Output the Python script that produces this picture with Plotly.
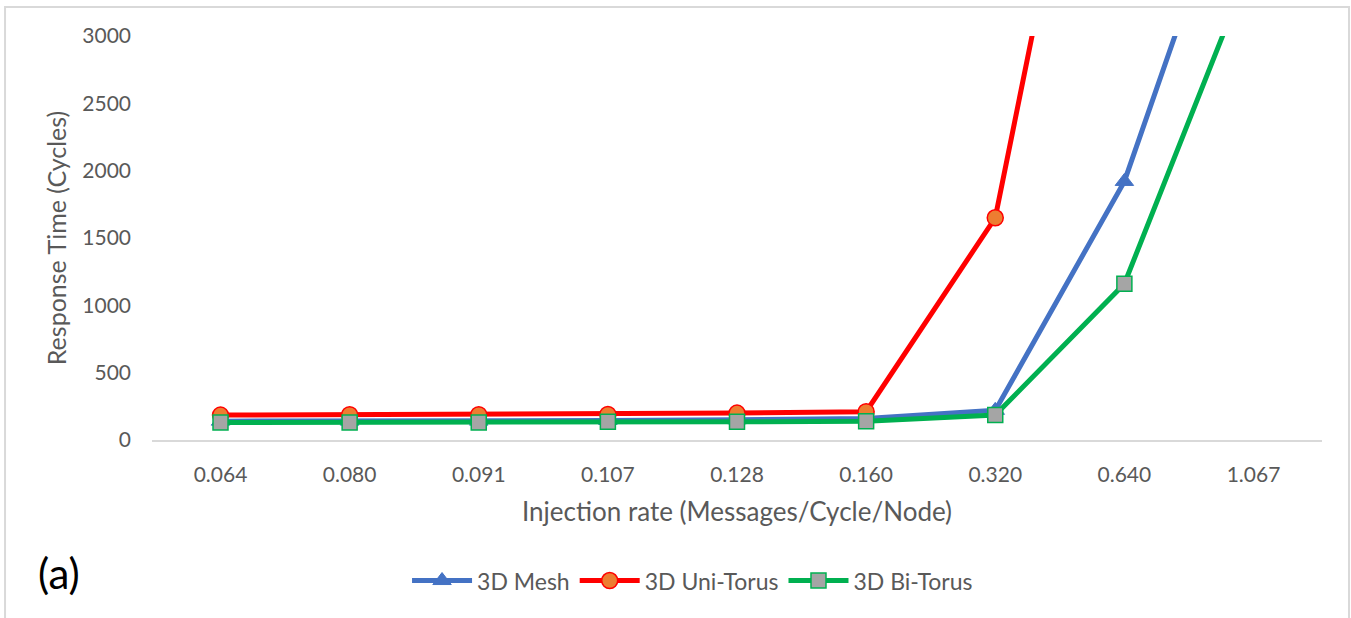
import plotly.graph_objects as go

# Injection rates (categorical x axis)
injection_rates = ["0.064", "0.080", "0.091", "0.107", "0.128", "0.160", "0.320", "0.640", "1.067"]

# Average response time in cycles per topology
mesh_3d = [140, 140, 140, 145, 150, 160, 220, 1920, 4680]
uni_torus_3d = [185, 188, 188, 190, 200, 210, 1650, 6390, 10500]
bi_torus_3d = [130, 130, 130, 135, 135, 140, 185, 1160, 3580]

y_ticks = [0, 500, 1000, 1500, 2000, 2500, 3000]

FONT = "Lato, 'Open Sans', sans-serif"
GRAY_TXT = "#595959"

fig = go.Figure()

fig.add_trace(go.Scatter(
    x=injection_rates, y=mesh_3d, name="3D Mesh", mode="lines+markers",
    line=dict(color="#4472C4", width=5),
    marker=dict(symbol="triangle-up", size=16, color="#4472C4",
                line=dict(color="#4472C4", width=1)),
))
fig.add_trace(go.Scatter(
    x=injection_rates, y=uni_torus_3d, name="3D Uni-Torus", mode="lines+markers",
    line=dict(color="#FF0000", width=5),
    marker=dict(symbol="circle", size=16, color="#ED7D31",
                line=dict(color="#FF0000", width=1.5)),
))
fig.add_trace(go.Scatter(
    x=injection_rates, y=bi_torus_3d, name="3D Bi-Torus", mode="lines+markers",
    line=dict(color="#00B050", width=5),
    marker=dict(symbol="square", size=15, color="#A5A5A5",
                line=dict(color="#00B050", width=1.5)),
))

# Panel label
fig.add_annotation(
    xref="paper", yref="paper", x=-0.099, y=-0.33,
    text="(a)", showarrow=False, xanchor="left", yanchor="middle",
    font=dict(family=FONT, size=42, color="#000000"),
)

# Outer chart border
fig.add_shape(
    type="rect", xref="paper", yref="paper",
    x0=-0.1256, x1=1.0231, y0=-0.46, y1=1.0718,
    line=dict(color="#D9D9D9", width=2), fillcolor="rgba(0,0,0,0)", layer="below",
)

fig.update_layout(
    width=1351, height=618,
    margin=dict(l=152, r=29, t=36, b=178),
    paper_bgcolor="white", plot_bgcolor="white",
    font=dict(family=FONT, color=GRAY_TXT, size=21),
    showlegend=True,
    legend=dict(
        orientation="h", x=0.462, xanchor="center", y=-0.348, yanchor="middle",
        font=dict(family=FONT, size=23, color=GRAY_TXT),
        itemwidth=60, tracegroupgap=0,
    ),
    xaxis=dict(
        type="category", showgrid=False, zeroline=False,
        showline=True, linecolor="#D9D9D9", linewidth=2,
        ticks="", ticklabelstandoff=15,
        tickfont=dict(family=FONT, size=21, color=GRAY_TXT),
        title=dict(text="Injection rate (Messages/Cycle/Node)", standoff=18,
                   font=dict(family=FONT, size=26, color=GRAY_TXT)),
    ),
    yaxis=dict(
        range=[0, 3000], tickvals=y_ticks, showgrid=False, zeroline=False,
        showline=False, ticks="", ticklabelstandoff=20,
        tickfont=dict(family=FONT, size=21, color=GRAY_TXT),
        title=dict(text="Response Time (Cycles)", standoff=8,
                   font=dict(family=FONT, size=25, color=GRAY_TXT)),
    ),
)

fig.write_html("out.html")
